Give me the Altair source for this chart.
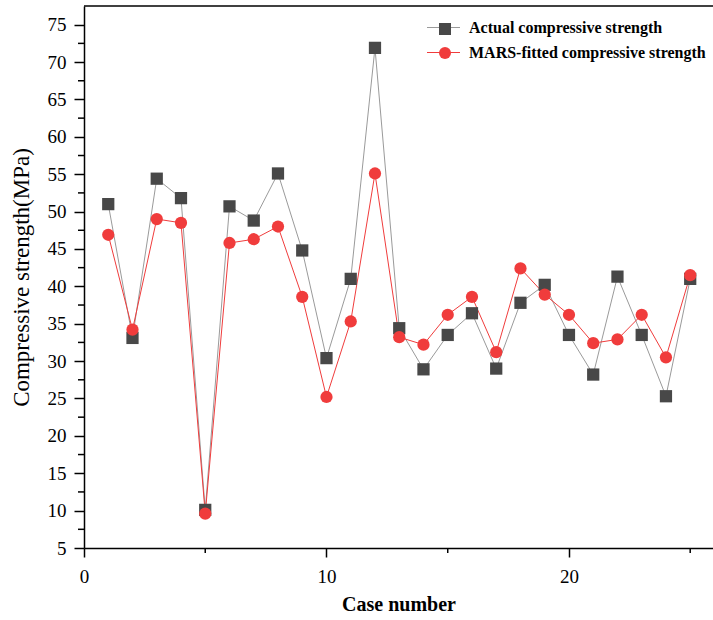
import altair as alt
import pandas as pd

cases = list(range(1, 26))
actual = [51.0, 33.1, 54.4, 51.8, 10.1, 50.7, 48.8, 55.1, 44.8, 30.4,
          41.0, 71.9, 34.4, 28.9, 33.5, 36.4, 29.0, 37.8, 40.2, 33.5,
          28.2, 41.3, 33.5, 25.3, 41.0]
fitted = [46.9, 34.2, 49.0, 48.5, 9.6, 45.8, 46.3, 48.0, 38.6, 25.2,
          35.3, 55.1, 33.2, 32.2, 36.2, 38.6, 31.2, 42.4, 38.9, 36.2,
          32.4, 32.9, 36.2, 30.5, 41.5]
series_names = ["Actual", "MARS-fitted"]
legend_labels = ["Actual compressive strength", "\u2002MARS-fitted compressive strength"]
y_major = list(range(5, 80, 5))
y_minor = [v + 2.5 for v in range(5, 75, 5)]
x_major = [0, 10, 20]
x_minor = [5, 15, 25]

W, H = 629, 542
FONT = "Liberation Serif"

n = len(cases)
df = pd.DataFrame({
    "case": cases * 2,
    "value": actual + fitted,
    "series": [series_names[0]] * n + [series_names[1]] * n,
    "line_series": [legend_labels[0]] * n + [legend_labels[1]] * n,
})

xscale = alt.Scale(domain=[0, 25.94], nice=False, zero=False)
yscale = alt.Scale(domain=[5, 77.5], nice=False, zero=False)

xaxis = alt.Axis(values=x_major, tickSize=9, labelPadding=10, labelFontSize=19,
                 title="Case number", titleFontSize=20, titleFontWeight="bold",
                 titlePadding=8, labelFlush=False)
yaxis = alt.Axis(values=y_major, tickSize=10, labelPadding=8, labelFontSize=19,
                 title="Compressive strength(MPa)", titleFontSize=23,
                 titleFontWeight="normal", titlePadding=14)

legend_lines = alt.Legend(
    title=None, orient="none", legendX=342.5, legendY=4.5, padding=0,
    symbolType="stroke", symbolSize=1089, symbolStrokeWidth=1, labelOffset=8.5,
    rowPadding=-8, labelFont=FONT, labelFontSize=16, labelFontWeight="bold",
    labelColor="black", labelLimit=400,
)
legend_points = alt.Legend(
    title=None, orient="none", legendX=353, legendY=15, padding=0,
    symbolSize=144, labelOffset=0, rowPadding=8, labelFont=FONT, labelFontSize=16,
    labelExpr="''", symbolOpacity=1, symbolStrokeWidth=0,
)

lines = alt.Chart(df).mark_line(strokeWidth=1).encode(
    x=alt.X("case:Q", scale=xscale, axis=xaxis),
    y=alt.Y("value:Q", scale=yscale, axis=yaxis),
    stroke=alt.Stroke("line_series:N", scale=alt.Scale(domain=legend_labels, range=["#9a9a9a", "#f03c3c"]),
                      legend=legend_lines),
)

points = alt.Chart(df).mark_point(filled=True, opacity=1, size=150).encode(
    x=alt.X("case:Q", scale=xscale, axis=xaxis),
    y=alt.Y("value:Q", scale=yscale, axis=yaxis),
    color=alt.Color("series:N", scale=alt.Scale(domain=series_names, range=["#484848", "#f03c3c"]),
                    legend=legend_points),
    shape=alt.Shape("series:N", scale=alt.Scale(domain=series_names, range=["square", "circle"]),
                    legend=legend_points),
    order=alt.Order("series:N"),
)

ymin_df = pd.DataFrame({"v": y_minor})
xmin_df = pd.DataFrame({"v": x_minor})

ymin = alt.Chart(ymin_df).mark_rule(color="black", strokeWidth=1.5).encode(
    y=alt.Y("v:Q", scale=yscale, axis=yaxis), x=alt.value(-6), x2=alt.value(0))
xmin = alt.Chart(xmin_df).mark_rule(color="black", strokeWidth=1.5).encode(
    x=alt.X("v:Q", scale=xscale, axis=xaxis), y=alt.value(H), y2=alt.value(H + 5))

top = alt.Chart(pd.DataFrame({"a": [0]})).mark_rule(color="black", strokeWidth=1.5).encode(
    x=alt.value(0), x2=alt.value(W), y=alt.value(0))

chart = alt.layer(lines, points, ymin, xmin, top).properties(
    width=W, height=H, autosize="none",
    padding={"left": 84, "top": 6, "right": 0, "bottom": 72},
).configure_axis(
    domainColor="black", domainWidth=1.5, tickColor="black", tickWidth=1.5,
    labelFont=FONT, titleFont=FONT, labelColor="black", titleColor="black", grid=False,
).configure_view(stroke=None)

chart.save("out.html", embed_options={"renderer": "svg", "actions": False})
